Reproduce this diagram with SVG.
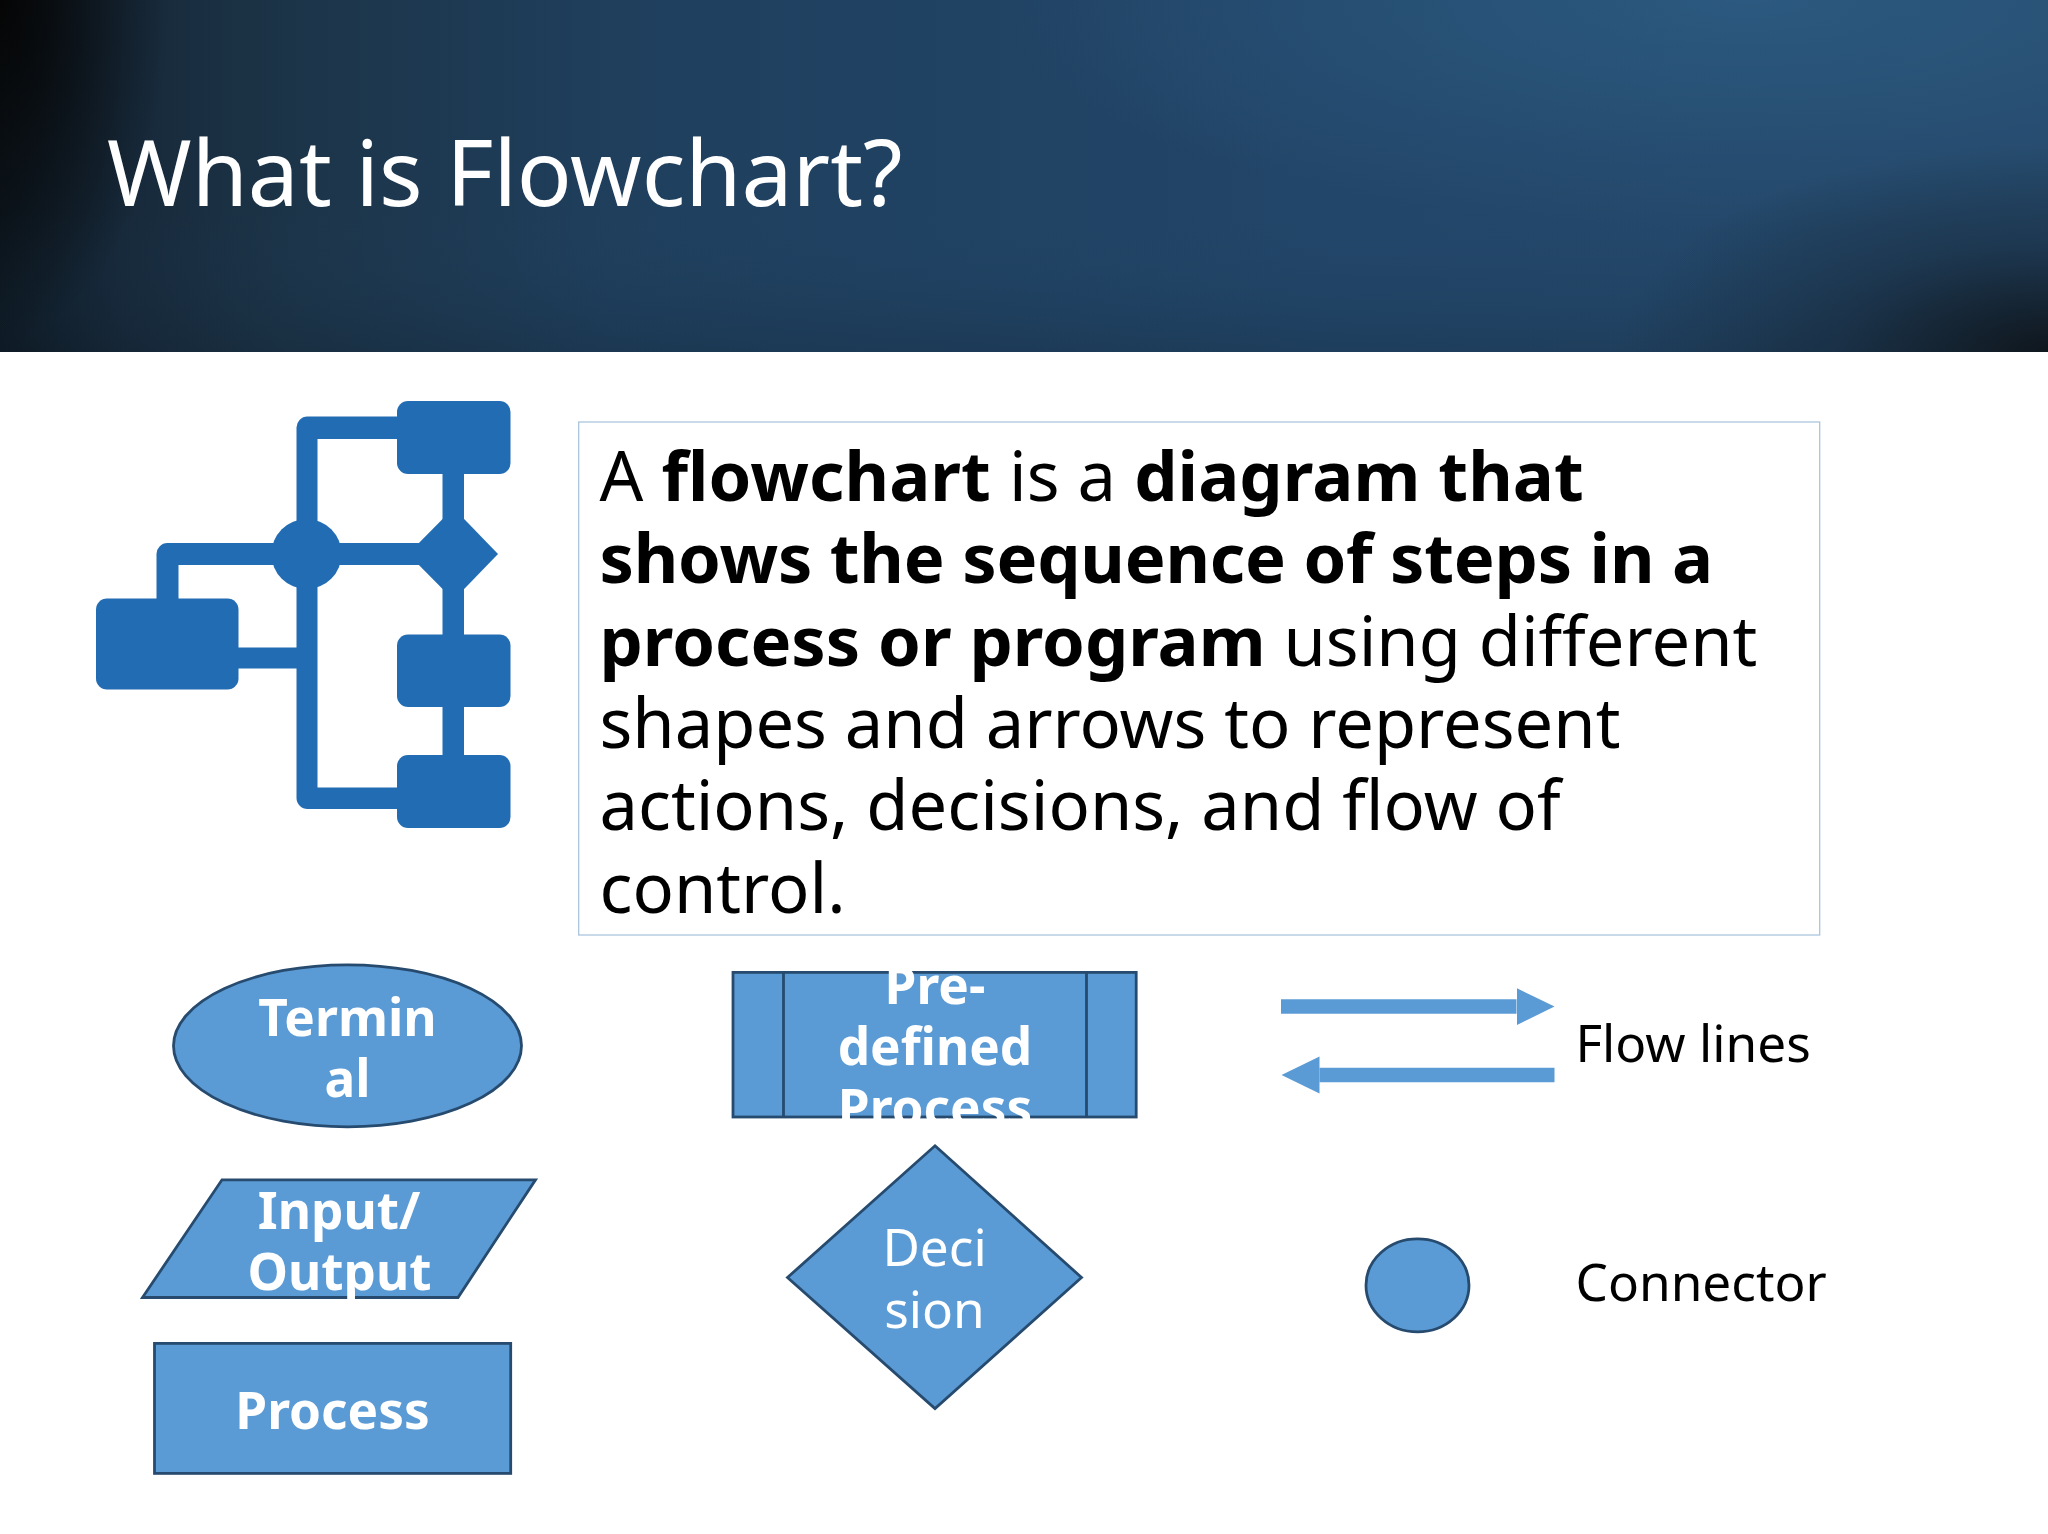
<svg xmlns="http://www.w3.org/2000/svg" width="2048" height="1534" viewBox="0 0 2048 1534">
<style>
text{font-family:"Noto Sans","Open Sans","Liberation Sans",sans-serif}
.s{fill:#5b9bd5;stroke:#264b6f;stroke-width:2.8}
.t{fill:#fff;font-size:51.3px;text-anchor:middle}
.b{font-weight:700}
.l{fill:#000;font-size:51.3px}
.i{fill:#226cb3}
.a{stroke:#5b9bd5;stroke-width:14.5;fill:none}
.body{fill:#000;font-size:68.6px}
</style>
<defs>
<linearGradient id="hx" x1="0" x2="1" y1="0" y2="0">
<stop offset="0" stop-color="#0e1a24"/><stop offset="0.06" stop-color="#17293a"/><stop offset="0.14" stop-color="#1c3448"/><stop offset="0.3" stop-color="#1f3f5d"/><stop offset="0.65" stop-color="#224669"/><stop offset="1" stop-color="#25496b"/>
</linearGradient>
<linearGradient id="hy" x1="0" x2="0" y1="0" y2="1">
<stop offset="0" stop-color="#000" stop-opacity="0"/><stop offset="0.6" stop-color="#22486c" stop-opacity="0"/><stop offset="1" stop-color="#0d1a26" stop-opacity="0.2"/>
</linearGradient>
<radialGradient id="hl" gradientUnits="userSpaceOnUse" cx="0" cy="0" r="1" gradientTransform="translate(1750 0) scale(750 230)">
<stop offset="0" stop-color="#2f6088" stop-opacity="0.7"/><stop offset="1" stop-color="#2f6088" stop-opacity="0"/>
</radialGradient>
<radialGradient id="hc" gradientUnits="userSpaceOnUse" cx="0" cy="0" r="1" gradientTransform="translate(2048 352) scale(430 210)">
<stop offset="0" stop-color="#0c0f12" stop-opacity="0.85"/><stop offset="0.5" stop-color="#0c0f12" stop-opacity="0.3"/><stop offset="1" stop-color="#0c0f12" stop-opacity="0"/>
</radialGradient>
<radialGradient id="hd" gradientUnits="userSpaceOnUse" cx="0" cy="0" r="1" gradientTransform="translate(0 0) scale(170 340)">
<stop offset="0" stop-color="#050505" stop-opacity="1"/><stop offset="0.3" stop-color="#050505" stop-opacity="0.7"/><stop offset="1" stop-color="#050505" stop-opacity="0"/>
</radialGradient>
<marker id="ah" markerUnits="strokeWidth" markerWidth="2.7" markerHeight="2.6" refX="0" refY="1.28" orient="auto"><path d="M0 0L2.62 1.28L0 2.56Z" fill="#5b9bd5"/></marker>
</defs>
<g id="header">
<rect width="2048" height="352" fill="url(#hx)"/>
<rect width="2048" height="352" fill="url(#hy)"/>
<rect width="2048" height="352" fill="url(#hl)"/>
<rect width="2048" height="352" fill="url(#hc)"/>
<rect width="2048" height="352" fill="url(#hd)"/>
<text x="107" y="206" fill="#fff" font-size="91">What is Flowchart?</text>
</g>
<g id="icon">
<path class="i" d="M238 647.500H307V668.500H238ZM296.500 428a11 11 0 0 1 11-11.500H400V439H317.500V787.500H400V809H307.500a11 11 0 0 1-11-11ZM156.500 554.500a11 11 0 0 1 11-11.500H430V565H178.500V600H156.500ZM442.500 470H464V760H442.500Z"/>
<circle class="i" cx="306.500" cy="554" r="35"/>
<path class="i" d="M453.500 508L498 554L453.500 600L408 554Z"/>
<rect class="i" x="397" y="401" width="113.500" height="73" rx="11"/>
<rect class="i" x="397" y="634.500" width="113.500" height="72.500" rx="11"/>
<rect class="i" x="397" y="755" width="113.500" height="73" rx="11"/>
<rect class="i" x="96" y="598.500" width="142.500" height="91" rx="11"/>
</g>
<g id="description">
<rect x="578.700" y="422" width="1241" height="513" fill="#fff" stroke="#abc5de" stroke-width="1.300"/>
<text class="body" letter-spacing="0.1"><tspan x="599.500" y="501">A </tspan><tspan class="b">flowchart</tspan><tspan> is a </tspan><tspan class="b">diagram that</tspan></text>
<text class="body b" x="599.500" y="583.200" letter-spacing="-0.2">shows the sequence of steps in a</text>
<text class="body"><tspan x="599.500" y="665.600" class="b">process or program</tspan><tspan> using different</tspan></text>
<text class="body" x="599.500" y="748">shapes and arrows to represent</text>
<text class="body" x="599.500" y="830.200">actions, decisions, and flow of</text>
<text class="body" x="599.500" y="912.500">control.</text>
</g>
<g id="terminal">
<ellipse class="s" cx="347.500" cy="1045.800" rx="174" ry="81"/>
<text class="t b" x="347.500" y="1035.500">Termin</text>
<text class="t b" x="347.500" y="1097">al</text>
</g>
<g id="input-output">
<path class="s" d="M222 1179.800H535.500L458 1297.500H142.500Z"/>
<text class="t b" x="339" y="1228.500">Input/</text>
<text class="t b" x="339.500" y="1290">Output</text>
</g>
<g id="process">
<rect class="s" x="154.500" y="1343.400" width="356.200" height="130"/>
<text class="t b" x="332.500" y="1429">Process</text>
</g>
<g id="predefined-process">
<rect class="s" x="733" y="972.400" width="403.200" height="144.600"/>
<path class="s" d="M783.500 972.400V1117M1086.500 972.400V1117"/>
<text class="t b" x="935" y="1003.500">Pre-</text>
<text class="t b" x="935" y="1064.500">defined</text>
<text class="t b" x="935" y="1125.500">Process</text>
</g>
<g id="decision">
<path class="s" d="M935 1145.800L1081.500 1277.500L935 1408.500L787.500 1277.500Z"/>
<text class="t" x="934.500" y="1265.500">Deci</text>
<text class="t" x="934.500" y="1327.500">sion</text>
</g>
<g id="connector-shape">
<ellipse class="s" cx="1417.500" cy="1285.300" rx="51.500" ry="46.500"/>
</g>
<g id="connectors">
<line class="a" x1="1281" y1="1006.600" x2="1516.500" y2="1006.600" marker-end="url(#ah)"/>
<line class="a" x1="1554.500" y1="1075" x2="1319.500" y2="1075" marker-end="url(#ah)"/>
</g>
<g id="labels">
<text class="l" x="1575.500" y="1061.500">Flow lines</text>
<text class="l" x="1575.500" y="1300.500">Connector</text>
</g>
</svg>
